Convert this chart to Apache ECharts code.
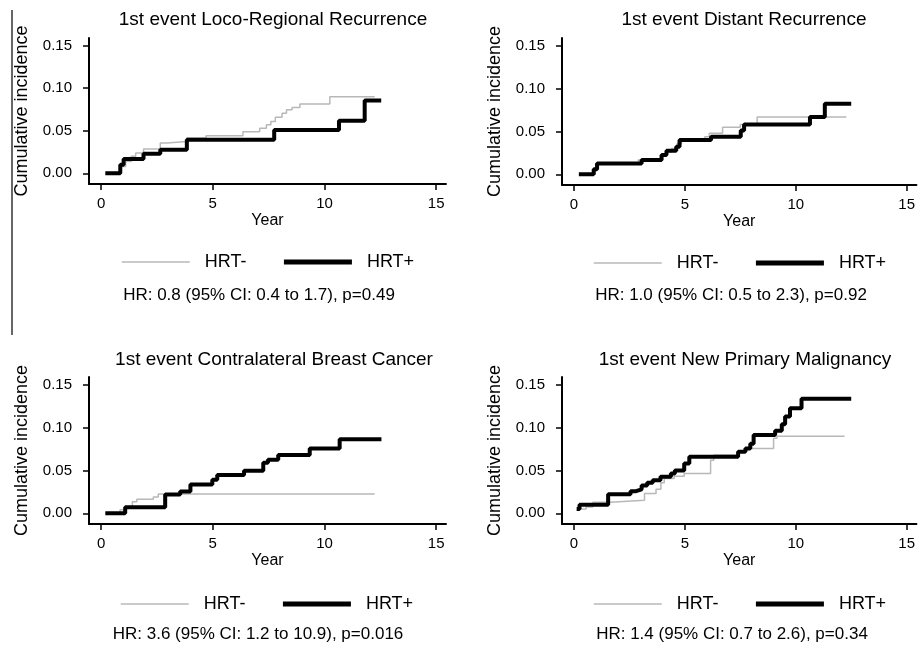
<!DOCTYPE html>
<html><head><meta charset="utf-8">
<script src="https://cdn.jsdelivr.net/npm/echarts@6/dist/echarts.min.js"></script>
<style>html,body{margin:0;padding:0;background:#fff}#c{width:918px;height:646px}</style>
</head><body><div id="c"></div>
<script>
const panelTitles = ['1st event Loco-Regional Recurrence', '1st event Distant Recurrence', '1st event Contralateral Breast Cancer', '1st event New Primary Malignancy'];
const captions = ['HR: 0.8 (95% CI: 0.4 to 1.7), p=0.49', 'HR: 1.0 (95% CI: 0.5 to 2.3), p=0.92', 'HR: 3.6 (95% CI: 1.2 to 10.9), p=0.016', 'HR: 1.4 (95% CI: 0.7 to 2.6), p=0.34'];
const groupNames = ['HRT-', 'HRT+'];
const yearTicks = [0, 5, 10, 15];
const incTicks = [0, 0.05, 0.10, 0.15];

const lrr_neg_t = [0.3, 0.9, 1.1, 1.35, 1.55, 1.9, 2.65, 2.95, 3.84, 4.7, 6.35, 7.1, 7.4, 7.6, 7.8, 8.1, 8.3, 8.55, 8.9, 10.24, 12.25];
const lrr_neg_v = [0, 0.008, 0.014, 0.020, 0.024, 0.0286, 0.0356, 0.0375, 0.0414, 0.0441, 0.049, 0.053, 0.057, 0.061, 0.066, 0.0707, 0.0746, 0.0773, 0.0816, 0.090, 0.090];
const lrr_pos_t = [0.19, 0.86, 1.01, 1.9, 2.65, 3.84, 7.75, 10.65, 11.8, 12.54];
const lrr_pos_v = [0, 0.010, 0.0168, 0.023, 0.0278, 0.0395, 0.051, 0.0617, 0.0855, 0.0855];

const dr_neg_t = [0.25, 0.95, 1.1, 2.9, 3.9, 4.2, 4.4, 4.65, 4.85, 5.9, 6.1, 6.7, 7.5, 8.26, 12.28];
const dr_neg_v = [0, 0.006, 0.0125, 0.0168, 0.022, 0.026, 0.030, 0.036, 0.040, 0.0439, 0.048, 0.055, 0.058, 0.0667, 0.0667];
const dr_pos_t = [0.22, 0.89, 1.04, 3.05, 3.95, 4.17, 4.61, 4.76, 6.18, 7.52, 7.67, 10.64, 11.31, 12.5];
const dr_pos_v = [0, 0.006, 0.0125, 0.0168, 0.0224, 0.0274, 0.032, 0.040, 0.0439, 0.051, 0.058, 0.0667, 0.0824, 0.0824];

const cbc_neg_t = [0.25, 0.85, 1.1, 1.4, 1.6, 2.34, 2.56, 12.25];
const cbc_neg_v = [0, 0.004, 0.008, 0.0136, 0.0164, 0.019, 0.0226, 0.0226];
const cbc_pos_t = [0.19, 1.08, 2.87, 3.54, 4.0, 4.98, 5.2, 6.4, 7.26, 7.47, 7.93, 9.34, 10.68, 12.55];
const cbc_pos_v = [0, 0.007, 0.022, 0.0255, 0.0335, 0.039, 0.0447, 0.0497, 0.059, 0.0624, 0.068, 0.0755, 0.0865, 0.0865];

const npm_neg_t = [0.3, 0.55, 0.85, 1.65, 3.18, 3.7, 3.92, 4.07, 4.52, 4.97, 6.16, 6.3, 7.4, 7.73, 9.0, 9.15, 12.2];
const npm_neg_v = [0.005, 0.0074, 0.013, 0.0152, 0.023, 0.028, 0.0355, 0.0406, 0.0433, 0.0465, 0.062, 0.068, 0.0718, 0.0757, 0.0875, 0.090, 0.090];
const npm_pos_t = [0.12, 0.25, 1.54, 2.55, 2.8, 3.05, 3.3, 3.55, 3.9, 4.37, 4.55, 4.97, 5.2, 7.4, 7.73, 7.95, 8.1, 9.07, 9.37, 9.52, 9.74, 10.26, 12.5];
const npm_pos_v = [0.005, 0.0101, 0.0222, 0.0258, 0.028, 0.0324, 0.0355, 0.0386, 0.0425, 0.0465, 0.050, 0.058, 0.066, 0.0718, 0.0757, 0.081, 0.0913, 0.0964, 0.104, 0.1128, 0.1226, 0.1335, 0.1335];

const panels = [
  [[lrr_neg_t, lrr_neg_v], [lrr_pos_t, lrr_pos_v]],
  [[dr_neg_t, dr_neg_v], [dr_pos_t, dr_pos_v]],
  [[cbc_neg_t, cbc_neg_v], [cbc_pos_t, cbc_pos_v]],
  [[npm_neg_t, npm_neg_v], [npm_pos_t, npm_pos_v]]
];

const FONT = '"Liberation Sans", Arial, sans-serif';
const gridPos = [
  {left: 89, top: 38, width: 357, height: 146},
  {left: 562, top: 38, width: 357, height: 147},
  {left: 89, top: 377, width: 357, height: 147},
  {left: 562, top: 377, width: 357, height: 147}
];
const titleCenters = [[273, 10], [744, 10], [274, 350], [745, 350]];
const captionCenters = [[259, 287], [731, 287], [258, 626], [732, 626]];
const legendPos = [[121, 253], [593, 254], [120, 595], [593, 595]];
const groupStyles = [
  {color: '#b8b8b8', width: 1.5, legendWidth: 1.5},
  {color: '#000000', width: 4, legendWidth: 5}
];

const zip = (t, v) => t.map((x, i) => [x, v[i]]);

const grids = [], xAxes = [], yAxes = [], series = [], titles = [], legends = [];
panels.forEach((p, i) => {
  grids.push(Object.assign({containLabel: false}, gridPos[i]));
  xAxes.push({
    gridIndex: i, type: 'value', min: -0.54, max: 15.44,
    axisLine: {show: true, onZero: false, lineStyle: {color: '#000', width: 2}},
    axisTick: {show: true, length: 6, customValues: yearTicks, lineStyle: {color: '#000', width: 1.5}},
    axisLabel: {customValues: yearTicks, margin: 12, fontSize: 15, color: '#000', fontFamily: FONT},
    splitLine: {show: false},
    name: 'Year', nameLocation: 'middle', nameGap: 29,
    nameTextStyle: {fontSize: 16, color: '#000', fontFamily: FONT}
  });
  yAxes.push({
    gridIndex: i, type: 'value', min: -0.0125, max: 0.159,
    axisLine: {show: true, onZero: false, lineStyle: {color: '#000', width: 2}},
    axisTick: {show: true, length: 6, customValues: incTicks, lineStyle: {color: '#000', width: 1.5}},
    axisLabel: {customValues: incTicks, margin: 17, fontSize: 15, color: '#000', fontFamily: FONT,
      formatter: v => v.toFixed(2)},
    splitLine: {show: false},
    name: 'Cumulative incidence', nameLocation: 'middle', nameGap: 58, nameRotate: 90,
    nameTextStyle: {fontSize: 18, color: '#000', fontFamily: FONT}
  });
  p.forEach((g, k) => {
    series.push({
      type: 'line', name: groupNames[k], xAxisIndex: i, yAxisIndex: i,
      step: 'end', symbol: 'none', showSymbol: false, silent: true,
      lineStyle: {color: groupStyles[k].color, width: groupStyles[k].width},
      itemStyle: {color: groupStyles[k].color},
      z: 2 + k,
      data: zip(g[0], g[1])
    });
  });
  titles.push({
    text: panelTitles[i], left: titleCenters[i][0], top: titleCenters[i][1], textAlign: 'center', padding: 0,
    textStyle: {fontSize: 19, fontWeight: 'normal', color: '#000', fontFamily: FONT}
  });
  titles.push({
    text: captions[i], left: captionCenters[i][0], top: captionCenters[i][1], textAlign: 'center', padding: 0,
    textStyle: {fontSize: 17, fontWeight: 'normal', color: '#000', fontFamily: FONT}
  });
  legends.push({
    data: groupNames.map((n, k) => ({name: n, lineStyle: {width: groupStyles[k].legendWidth, color: groupStyles[k].color}})),
    left: legendPos[i][0], top: legendPos[i][1], orient: 'horizontal',
    itemWidth: 68, itemHeight: 14, itemGap: 35, padding: 0, selectedMode: false,
    itemStyle: {opacity: 0, borderWidth: 0},
    textStyle: {fontSize: 18, color: '#000', fontFamily: FONT, padding: [0, 0, 0, 10]}
  });
});

const chart = echarts.init(document.getElementById('c'), null, {renderer: 'canvas'});
chart.setOption({
  animation: false,
  backgroundColor: '#fff',
  title: titles,
  legend: legends,
  grid: grids,
  xAxis: xAxes,
  yAxis: yAxes,
  series: series,
  graphic: [{
    type: 'line', shape: {x1: 12, y1: 10, x2: 12, y2: 335},
    style: {stroke: '#333', lineWidth: 1.5}, silent: true
  }]
});
</script></body></html>
